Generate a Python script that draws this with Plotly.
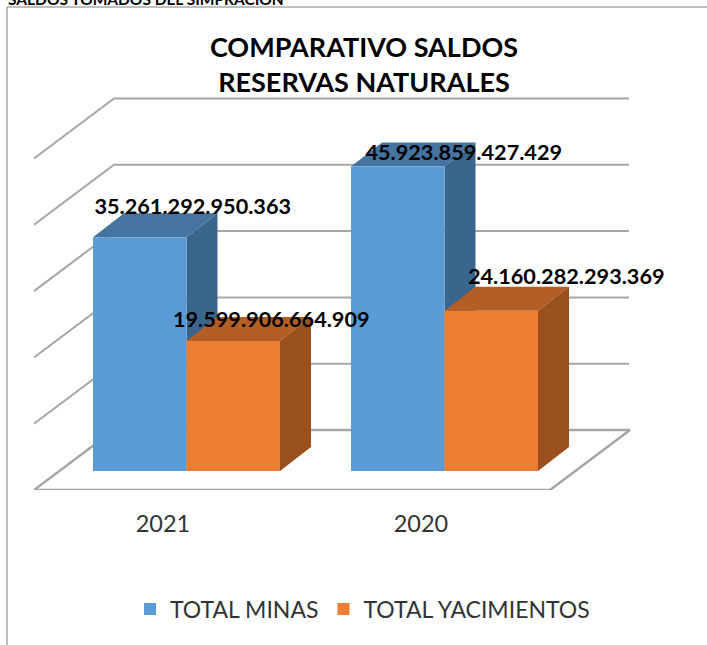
import plotly.graph_objects as go

categories = ["2021", "2020"]
series_names = ["TOTAL MINAS", "TOTAL YACIMIENTOS"]
total_minas = [35261292950363, 45923859427429]
total_yacimientos = [19599906664909, 24160282293369]
value_labels_minas = ["35.261.292.950.363", "45.923.859.427.429"]
value_labels_yac = ["19.599.906.664.909", "24.160.282.293.369"]
grid_ticks = [0, 10e12, 20e12, 30e12, 40e12, 50e12]

BLUE, BLUE_TOP, BLUE_SIDE = "#5B9BD5", "#44749F", "#3A658D"
ORANGE, ORANGE_TOP, ORANGE_SIDE = "#ED7D31", "#B25E25", "#9A501D"
GRID = "#A6A6A6"

W, H = 707, 645
L, T, B = 34, 10, 155          # plot-area margins; x=0 at px 34, value 0 at px 490
PX_X = 258.0                   # px per category
PX_Y = 6.63 / 1e12             # px per value unit
def dx(px): return px / PX_X
def dv(px): return px / PX_Y

FLOOR_DX, FLOOR_DY = dx(80), dv(60)     # depth of the floor
BAR_DX0, BAR_DY0 = dx(23.5), dv(19)     # bar front plane offset
BAR_DX, BAR_DY = dx(31), dv(24)         # bar depth
BAR_W = dx(93.5)

fig = go.Figure()

# walls: gridlines
for t in grid_ticks[1:]:
    fig.add_trace(go.Scatter(
        x=[0, FLOOR_DX, 2 + dx(-1) + FLOOR_DX], y=[t, t + FLOOR_DY, t + FLOOR_DY],
        mode="lines", line=dict(color=GRID, width=2), showlegend=False,
        hoverinfo="skip", zorder=0))
# floor
fig.add_trace(go.Scatter(
    x=[0, 2, 2 + FLOOR_DX, FLOOR_DX, 0],
    y=[0, 0, FLOOR_DY, FLOOR_DY, 0],
    mode="lines", line=dict(color=GRID, width=2.5), showlegend=False,
    hoverinfo="skip", zorder=0, cliponaxis=False))

def faces(values, first, top_color, side_color, z):
    for i, v in enumerate(values):
        c = i + 0.5 + BAR_DX0
        xl = c - BAR_W if first else c
        xr = xl + BAR_W
        v0 = BAR_DY0
        vt = v + BAR_DY0
        fig.add_trace(go.Scatter(
            x=[xl, xr, xr + BAR_DX, xl + BAR_DX, xl],
            y=[vt, vt, vt + BAR_DY, vt + BAR_DY, vt],
            mode="lines", fill="toself", fillcolor=top_color,
            line=dict(width=0, color=top_color), showlegend=False,
            hoverinfo="skip", zorder=z))
        fig.add_trace(go.Scatter(
            x=[xr, xr + BAR_DX, xr + BAR_DX, xr, xr],
            y=[vt, vt + BAR_DY, v0 + BAR_DY, v0, vt],
            mode="lines", fill="toself", fillcolor=side_color,
            line=dict(width=0, color=side_color), showlegend=False,
            hoverinfo="skip", zorder=z))

faces(total_minas, True, BLUE_TOP, BLUE_SIDE, 1)
faces(total_yacimientos, False, ORANGE_TOP, ORANGE_SIDE, 2)

centers = [i + 0.5 + BAR_DX0 for i in range(len(categories))]
fig.add_trace(go.Bar(
    x=[c - BAR_W / 2 for c in centers], y=total_minas, base=BAR_DY0, width=BAR_W,
    name=series_names[0], marker=dict(color=BLUE, line=dict(width=0)), zorder=3))
fig.add_trace(go.Bar(
    x=[c + BAR_W / 2 for c in centers], y=total_yacimientos, base=BAR_DY0, width=BAR_W,
    name=series_names[1], marker=dict(color=ORANGE, line=dict(width=0)), zorder=3))

# data labels (placed by hand offset from each bar's top centre, in px)
lab_off_minas = [(53, 29), (66, 12)]
lab_off_yac = [(38, 19), (75, 32)]
lx, ly, lt = [], [], []
for i, c in enumerate(centers):
    ox, oy = lab_off_minas[i]
    lx.append(c - BAR_W / 2 + dx(ox)); ly.append(total_minas[i] + BAR_DY0 + dv(oy)); lt.append(value_labels_minas[i])
    ox, oy = lab_off_yac[i]
    lx.append(c + BAR_W / 2 + dx(ox)); ly.append(total_yacimientos[i] + BAR_DY0 + dv(oy)); lt.append(value_labels_yac[i])
fig.add_trace(go.Scatter(
    x=lx, y=ly, text=lt, mode="text", textposition="middle center",
    textfont=dict(family="Lato", size=21.7, color="#000000", weight="bold"),
    showlegend=False, hoverinfo="skip", cliponaxis=False, zorder=4))

plot_w = W - L
plot_h = H - T - B
def px(x): return (x - L) / plot_w
def py(y): return (H - B - y) / plot_h

fig.update_layout(
    width=W, height=H, autosize=False,
    margin=dict(l=L, r=0, t=T, b=B, pad=0),
    paper_bgcolor="#FFFFFF", plot_bgcolor="rgba(0,0,0,0)",
    font=dict(family="Lato", color="#333333"),
    barmode="overlay",
    title=dict(text="COMPARATIVO SALDOS<br>RESERVAS NATURALES",
               x=364 / W, xanchor="center", y=1 - 57 / H, yanchor="top",
               font=dict(family="Lato", size=27, color="#000000", weight="bold")),
    xaxis=dict(range=[0, plot_w / PX_X], tickmode="array", tickvals=[0.5, 1.5],
               ticktext=categories, showgrid=False, zeroline=False, showline=False,
               ticks="outside", ticklen=13, tickcolor="rgba(0,0,0,0)",
               tickfont=dict(family="Lato", size=23.5, color="#333333")),
    yaxis=dict(range=[0, plot_h / PX_Y], visible=False),
    legend=dict(orientation="h", x=px(130), xanchor="left", y=py(609), yanchor="middle",
                font=dict(family="Lato", size=23, color="#333333"),
                bgcolor="rgba(0,0,0,0)", traceorder="normal"),
    shapes=[
        dict(type="line", xref="paper", yref="paper", x0=px(7), x1=px(W), y0=py(7), y1=py(7),
             line=dict(color="#7F7F7F", width=1)),
        dict(type="line", xref="paper", yref="paper", x0=px(7), x1=px(7), y0=py(7), y1=py(H),
             line=dict(color="#7F7F7F", width=1)),
    ],
    annotations=[dict(text="<b>SALDOS TOMADOS DEL SIMPRACION</b>", xref="paper", yref="paper",
                      x=px(6), y=py(10), xanchor="left", yanchor="bottom", showarrow=False,
                      font=dict(family="Lato", size=15.5, color="#000000"))],
)
fig.write_html("out.html", post_script="document.body.style.margin='0';",
               config={"displayModeBar": False})
